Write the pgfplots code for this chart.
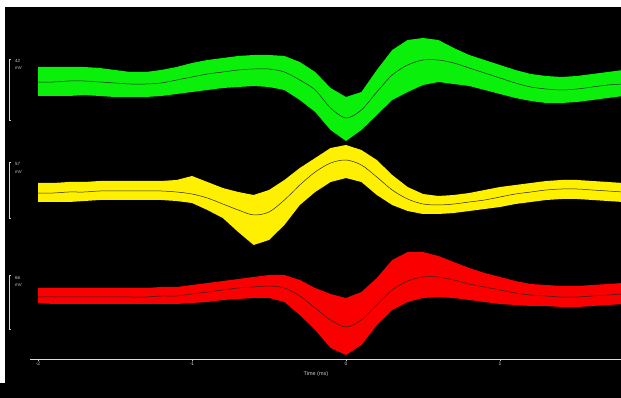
\documentclass[border=0pt]{standalone}
\usepackage{fontspec}
\setmainfont{Liberation Sans}
\usepackage{pgfplots}
\usepackage{pgfplotstable}
\pgfplotsset{compat=1.18}
\usepgfplotslibrary{fillbetween}
\definecolor{tgreen}{RGB}{10,240,10}
\definecolor{tyellow}{RGB}{255,240,0}
\definecolor{tred}{RGB}{250,0,0}
\definecolor{tgray}{RGB}{205,205,205}

\pgfplotstableread{
x gc gt gb yc yt yb rc rt rb
-2.0 82 67 96 193 183 202 297 288 303
-1.9 82 67 96 193 183 202 297 288 304
-1.8 81 67 96 192 182 202 297 288 304
-1.7 81 67 95 192 182 201 297 288 304
-1.6 82 68 96 191 181 200 297 288 304
-1.5 83 70 97 191 181 200 297 288 304
-1.4 84 72 97 191 181 200 297 288 304
-1.3 84 72 97 191 181 200 297 288 304
-1.2 83 70 96 191 181 200 296 287 304
-1.1 80 67 94 192 180 201 296 287 304
-1.0 77 63 92 194 176 203 294 285 303
-0.9 74 60 90 198 182 210 292 283 302
-0.8 72 58 88 204 188 218 290 281 300
-0.7 70 56 87 210 192 232 288 279 299
-0.6 69 55 86 215 195 245 287 277 298
-0.5 69 55 87 212 190 240 286 275 298
-0.4 72 56 90 200 180 225 288 275 302
-0.3 80 62 100 185 168 205 296 280 315
-0.2 90 72 112 172 158 192 308 288 330
-0.1 108 88 130 163 148 182 320 294 348
0.0 118 97 141 160 145 178 327 298 355
0.1 110 92 130 165 150 182 320 292 345
0.2 92 70 115 177 160 195 305 278 325
0.3 75 50 100 190 175 205 290 260 310
0.4 65 40 92 199 187 211 281 252 302
0.5 60 38 85 204 194 214 277 252 298
0.6 60 40 82 205 196 214 277 256 297
0.7 63 48 84 204 195 213 280 262 298
0.8 68 55 86 202 193 211 284 268 300
0.9 73 60 90 200 190 209 287 273 302
1.0 78 65 94 197 187 207 290 277 304
1.1 83 70 98 194 185 204 293 281 305
1.2 87 74 101 192 183 202 295 284 306
1.3 89 76 103 190 181 200 296 285 306
1.4 90 77 103 189 180 199 297 286 307
1.5 89 76 102 189 180 199 297 286 307
1.6 87 74 100 190 181 200 296 285 306
1.7 85 72 98 191 182 201 295 284 305
1.8 84 70 96 192 183 202 294 283 304
}\traces

\begin{document}
\begin{tikzpicture}
\begin{axis}[
  scale only axis, width=621bp, height=398bp,
  xmin=-2.24675, xmax=1.78571, ymin=-39, ymax=359,
  axis background/.style={fill=black},
  axis x line=middle, axis y line=none,
  axis line style={-, draw=none},
  xtick={-2,-1,0,1},
  tick style={draw=tgray, line width=0.4pt},
  major tick length=2bp,
  tick align=outside,
  xticklabel style={font=\fontsize{5}{6}\selectfont, text=tgray, inner sep=1bp},
  /pgf/number format/assume math mode=true,
  clip=false,
]
% green
\addplot[name path=gt, draw=none, forget plot] table[x=x, y expr=359-\thisrow{gt}] {\traces};
\addplot[name path=gb, draw=none, forget plot] table[x=x, y expr=359-\thisrow{gb}] {\traces};
\addplot[fill=tgreen, draw=none] fill between[of=gt and gb];
% yellow
\addplot[name path=yt, draw=none, forget plot] table[x=x, y expr=359-\thisrow{yt}] {\traces};
\addplot[name path=yb, draw=none, forget plot] table[x=x, y expr=359-\thisrow{yb}] {\traces};
\addplot[fill=tyellow, draw=none] fill between[of=yt and yb];
% red
\addplot[name path=rt, draw=none, forget plot] table[x=x, y expr=359-\thisrow{rt}] {\traces};
\addplot[name path=rb, draw=none, forget plot] table[x=x, y expr=359-\thisrow{rb}] {\traces};
\addplot[fill=tred, draw=none] fill between[of=rt and rb];
% mean lines
\addplot[black!85, line width=0.5bp, smooth] table[x=x, y expr=359-\thisrow{gc}] {\traces};
\addplot[black!85, line width=0.5bp, smooth] table[x=x, y expr=359-\thisrow{yc}] {\traces};
\addplot[black!85, line width=0.5bp, smooth] table[x=x, y expr=359-\thisrow{rc}] {\traces};

% time axis line
\draw[tgray!70, line width=0.6bp] (axis cs:-2.052,0) -- (axis cs:1.78571,0);
\node[font=\fontsize{5.5}{6.5}\selectfont, text=tgray] at (axis cs:-0.195,-15) {Time (ms)};

% scale brackets
\draw[tgray, line width=0.6bp] (axis cs:-2.1753,300) -- (axis cs:-2.1883,300) -- (axis cs:-2.1883,239) -- (axis cs:-2.1753,239);
\draw[tgray, line width=0.6bp] (axis cs:-2.1753,197) -- (axis cs:-2.1883,197) -- (axis cs:-2.1883,141) -- (axis cs:-2.1753,141);
\draw[tgray, line width=0.6bp] (axis cs:-2.1753,84) -- (axis cs:-2.1883,84) -- (axis cs:-2.1883,30) -- (axis cs:-2.1753,30);
\node[anchor=west, inner sep=0, font=\fontsize{4.5}{5}\selectfont, text=tgray] at (axis cs:-2.1494,298) {42};
\node[anchor=west, inner sep=0, font=\fontsize{4.5}{5}\selectfont, text=tgray] at (axis cs:-2.1494,291) {mV};
\node[anchor=west, inner sep=0, font=\fontsize{4.5}{5}\selectfont, text=tgray] at (axis cs:-2.1494,195) {57};
\node[anchor=west, inner sep=0, font=\fontsize{4.5}{5}\selectfont, text=tgray] at (axis cs:-2.1494,187) {mV};
\node[anchor=west, inner sep=0, font=\fontsize{4.5}{5}\selectfont, text=tgray] at (axis cs:-2.1494,81) {66};
\node[anchor=west, inner sep=0, font=\fontsize{4.5}{5}\selectfont, text=tgray] at (axis cs:-2.1494,74) {mV};

% white margins
\fill[white] (axis cs:-2.24675,352) rectangle (axis cs:1.78571,359);
\fill[white] (axis cs:-2.24675,-24) rectangle (axis cs:-2.2143,359);
\end{axis}
\pgfresetboundingbox
\path (current axis.south west) rectangle (current axis.north east);
\end{tikzpicture}
\end{document}
